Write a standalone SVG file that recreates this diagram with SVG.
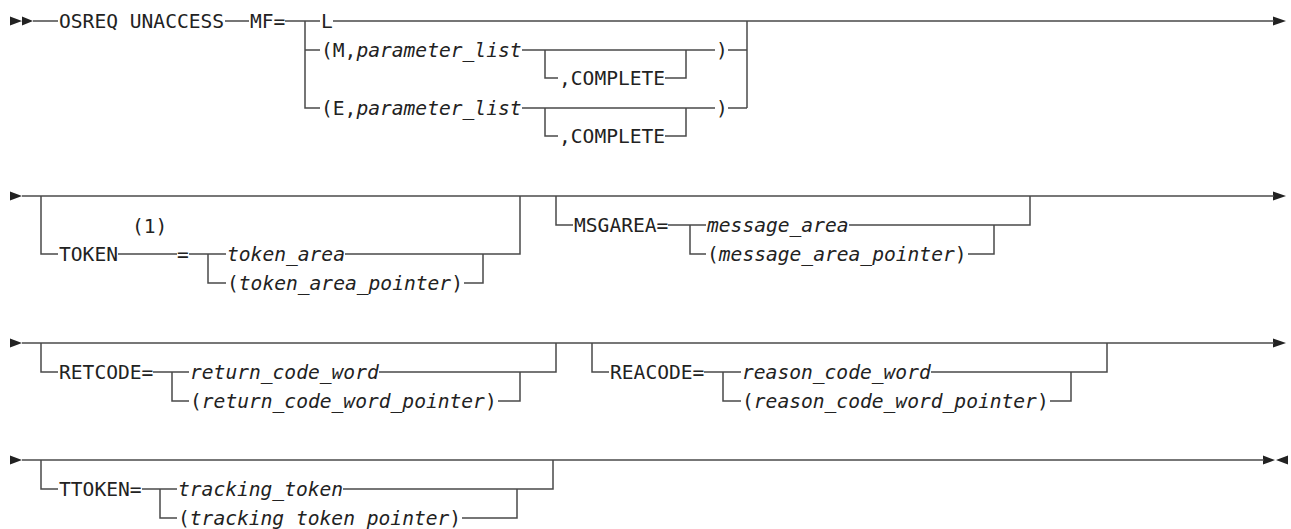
<svg xmlns="http://www.w3.org/2000/svg" width="1291" height="529" viewBox="0 0 1291 529">
<style>
.ln{stroke:#4a4a4a;stroke-width:1.5;fill:none}
.ah{fill:#222;stroke:none}
.t{font-family:"DejaVu Sans Mono","Liberation Mono",monospace;font-size:19.6px;fill:#222}
.i{font-style:italic}
</style>
<rect width="1291" height="529" fill="#fff"/>
<g id="connectors">
<path class="ah" d="M10 16.5 L22 21 L10 25.5Z M22 16.5 L33 21 L22 25.5Z M1273 16.5 L1286 21 L1273 25.5Z"/>
<path class="ln" d="M33 21H58 M225 21H249 M285 21H320 M333 21H1274"/>
<path class="ln" d="M305 21V108H320 M305 50H320"/>
<path class="ln" d="M522 50H715 M545 50V78H558 M665 78H686V50 M728 50H747"/>
<path class="ln" d="M522 108H715 M545 108V136H558 M665 136H686V108 M728 108H747"/>
<path class="ln" d="M747 21V108"/>
<path class="ah" d="M10 191.5 L22 196 L10 200.5Z M1273 191.5 L1286 196 L1273 200.5Z"/>
<path class="ln" d="M22 196H1274"/>
<path class="ln" d="M41 196V254H58 M118 254H177 M189 254H226 M208 254V283H226 M345 254H520V196 M464 283H483V254"/>
<path class="ln" d="M556 196V225H573 M668 225H706 M690 225V254H706 M849 225H1030V196 M968 254H994V225"/>
<path class="ah" d="M10 338.5 L22 343 L10 347.5Z M1273 338.5 L1286 343 L1273 347.5Z"/>
<path class="ln" d="M22 343H1274"/>
<path class="ln" d="M41 343V372H58 M153 372H189 M172 372V401H189 M379 372H556V343 M498 401H520V372"/>
<path class="ln" d="M592 343V372H609 M704 372H741 M723 372V401H741 M931 372H1107V343 M1050 401H1071V372"/>
<path class="ah" d="M10 455.5 L22 460 L10 464.5Z M1263 455.5 L1275 460 L1263 464.5Z M1288 455.5 L1276 460 L1288 464.5Z"/>
<path class="ln" d="M22 460H1264"/>
<path class="ln" d="M41 460V489H58 M142 489H177 M160 489V518H177 M343 489H553V460 M462 518H517V489"/>
</g>
<g id="n-osreq"><text class="t" x="59" y="28">OSREQ UNACCESS</text></g>
<g id="n-mf"><text class="t" x="250" y="28">MF=</text></g>
<g id="n-l"><text class="t" x="321" y="28">L</text></g>
<g id="n-m">
<text class="t" x="321" y="57">(M,<tspan class="i">parameter_list</tspan></text>
<text class="t" x="559" y="85">,COMPLETE</text>
<text class="t" x="716" y="57">)</text>
</g>
<g id="n-e">
<text class="t" x="321" y="115">(E,<tspan class="i">parameter_list</tspan></text>
<text class="t" x="559" y="143">,COMPLETE</text>
<text class="t" x="716" y="115">)</text>
</g>
<g id="n-token">
<text class="t" x="59" y="261">TOKEN</text>
<text class="t" x="132" y="233">(1)</text>
<text class="t" x="177" y="261">=</text>
<text class="t i" x="227" y="261">token_area</text>
<text class="t" x="227" y="290">(<tspan class="i">token_area_pointer</tspan>)</text>
</g>
<g id="n-msgarea">
<text class="t" x="574" y="232">MSGAREA=</text>
<text class="t i" x="707" y="232">message_area</text>
<text class="t" x="707" y="261">(<tspan class="i">message_area_pointer</tspan>)</text>
</g>
<g id="n-retcode">
<text class="t" x="59" y="379">RETCODE=</text>
<text class="t i" x="190" y="379">return_code_word</text>
<text class="t" x="190" y="408">(<tspan class="i">return_code_word_pointer</tspan>)</text>
</g>
<g id="n-reacode">
<text class="t" x="610" y="379">REACODE=</text>
<text class="t i" x="742" y="379">reason_code_word</text>
<text class="t" x="742" y="408">(<tspan class="i">reason_code_word_pointer</tspan>)</text>
</g>
<g id="n-ttoken">
<text class="t" x="59" y="496">TTOKEN=</text>
<text class="t i" x="178" y="496">tracking_token</text>
<text class="t" x="178" y="525">(<tspan class="i">tracking token pointer</tspan>)</text>
</g>
</svg>
